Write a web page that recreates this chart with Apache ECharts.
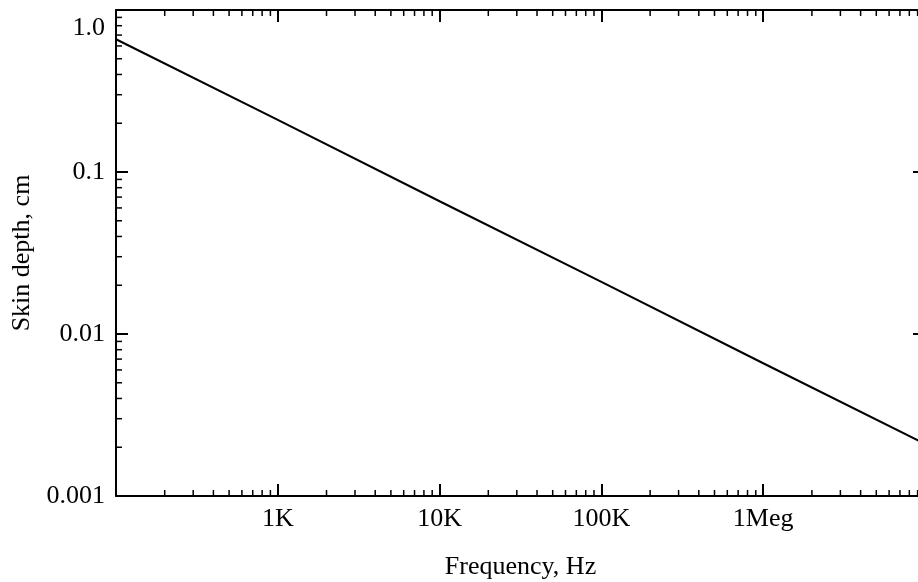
<!DOCTYPE html>
<html>
<head>
<meta charset="utf-8">
<script src="https://cdn.jsdelivr.net/npm/echarts@6/dist/echarts.min.js"></script>
<style>html,body{margin:0;padding:0;background:#fff}#c{width:918px;height:582px}</style>
</head>
<body>
<div id="c"></div>
<script>
// Data
const frequencyHz = [100, 1000, 10000, 100000, 1000000, 10000000];
const skinDepthCm = [0.66, 0.21, 0.066, 0.021, 0.0066, 0.0021];
const xTickLabels = ['', '1K', '10K', '100K', '1Meg', ''];   // decades 100 .. 10M
const yTickLabels = ['0.001', '0.01', '0.1', '1.0'];         // decades 0.001 .. 1
const xMinorTicks = [];
const yMinorTicks = [];
[100, 1000, 10000, 100000, 1000000].forEach(d => { for (let k = 2; k <= 9; k++) xMinorTicks.push(d * k); });
[0.001, 0.01, 0.1].forEach(d => { for (let k = 2; k <= 9; k++) yMinorTicks.push(d * k); });

const X_MIN = 100, X_MAX = 1e7, Y_MIN = 0.001, Y_MAX = 1;
const FONT = '"Liberation Serif", "DejaVu Serif", serif';
const FS = 26;

const chart = echarts.init(document.getElementById('c'), null, {renderer: 'canvas'});

function axisCommon() {
  return {
    axisLine: {show: true, lineStyle: {color: '#000', width: 2}},
    axisTick: {show: true, inside: true, length: 12, lineStyle: {color: '#000', width: 2}},
    splitLine: {show: false},
    minorTick: {show: false},
    minorSplitLine: {show: false}
  };
}

const option = {
  backgroundColor: '#fff',
  animation: false,
  grid: {left: 116, top: 10, right: -7, bottom: 86, containLabel: false, outerBoundsMode: 'none'},
  xAxis: [
    Object.assign({
      type: 'log', logBase: 10, min: X_MIN, max: X_MAX, position: 'bottom',
      name: 'Frequency, Hz', nameLocation: 'middle', nameGap: 58,
      nameTextStyle: {fontFamily: FONT, fontSize: FS, color: '#000'},
      axisLabel: {
        show: true, margin: 10, fontFamily: FONT, fontSize: FS, color: '#000',
        showMinLabel: true, showMaxLabel: true,
        formatter: v => xTickLabels[Math.round(Math.log10(v)) - 2] || ''
      }
    }, axisCommon()),
    Object.assign({
      type: 'log', logBase: 10, min: X_MIN, max: X_MAX, position: 'top',
      axisLabel: {show: false}
    }, axisCommon())
  ],
  yAxis: [
    Object.assign({
      type: 'log', logBase: 10, min: Y_MIN, max: Y_MAX, position: 'left',
      name: 'Skin depth, cm', nameLocation: 'middle', nameGap: 78,
      nameTextStyle: {fontFamily: FONT, fontSize: FS, color: '#000'},
      axisLabel: {
        show: true, margin: 11, fontFamily: FONT, fontSize: FS, color: '#000',
        showMinLabel: true, showMaxLabel: true,
        formatter: v => {
          const i = Math.round(Math.log10(v)) + 3;
          const t = yTickLabels[i] || '';
          return i === 3 ? '{top|' + t + '}' : t;
        },
        rich: {top: {fontFamily: FONT, fontSize: FS, color: '#000', padding: [36, 0, 0, 0]}}
      }
    }, axisCommon()),
    Object.assign({
      type: 'log', logBase: 10, min: Y_MIN, max: Y_MAX, position: 'right',
      axisLabel: {show: false}
    }, axisCommon())
  ],
  series: [
    {
      type: 'line',
      xAxisIndex: 0, yAxisIndex: 0,
      data: frequencyHz.map((f, i) => [f, skinDepthCm[i]]),
      showSymbol: false, symbol: 'none',
      lineStyle: {color: '#000', width: 2},
      clip: true, silent: true, z: 5
    },
    {
      type: 'custom',
      xAxisIndex: 0, yAxisIndex: 0,
      silent: true, z: 6,
      data: xMinorTicks.map(v => [v, Y_MIN]),
      renderItem: (params, api) => {
        const cs = params.coordSys;
        const x = api.coord([api.value(0), Y_MIN])[0];
        const style = {stroke: '#000', lineWidth: 1.5};
        return {type: 'group', children: [
          {type: 'line', shape: {x1: x, y1: cs.y + cs.height, x2: x, y2: cs.y + cs.height - 6}, style},
          {type: 'line', shape: {x1: x, y1: cs.y, x2: x, y2: cs.y + 6}, style}
        ]};
      }
    },
    {
      type: 'custom',
      xAxisIndex: 0, yAxisIndex: 0,
      silent: true, z: 6,
      data: yMinorTicks.map(v => [X_MIN, v]),
      renderItem: (params, api) => {
        const cs = params.coordSys;
        const y = api.coord([X_MIN, api.value(1)])[1];
        const style = {stroke: '#000', lineWidth: 1.5};
        return {type: 'group', children: [
          {type: 'line', shape: {x1: cs.x, y1: y, x2: cs.x + 6, y2: y}, style},
          {type: 'line', shape: {x1: cs.x + cs.width, y1: y, x2: cs.x + cs.width - 6, y2: y}, style}
        ]};
      }
    }
  ]
};
chart.setOption(option);
</script>
</body>
</html>
